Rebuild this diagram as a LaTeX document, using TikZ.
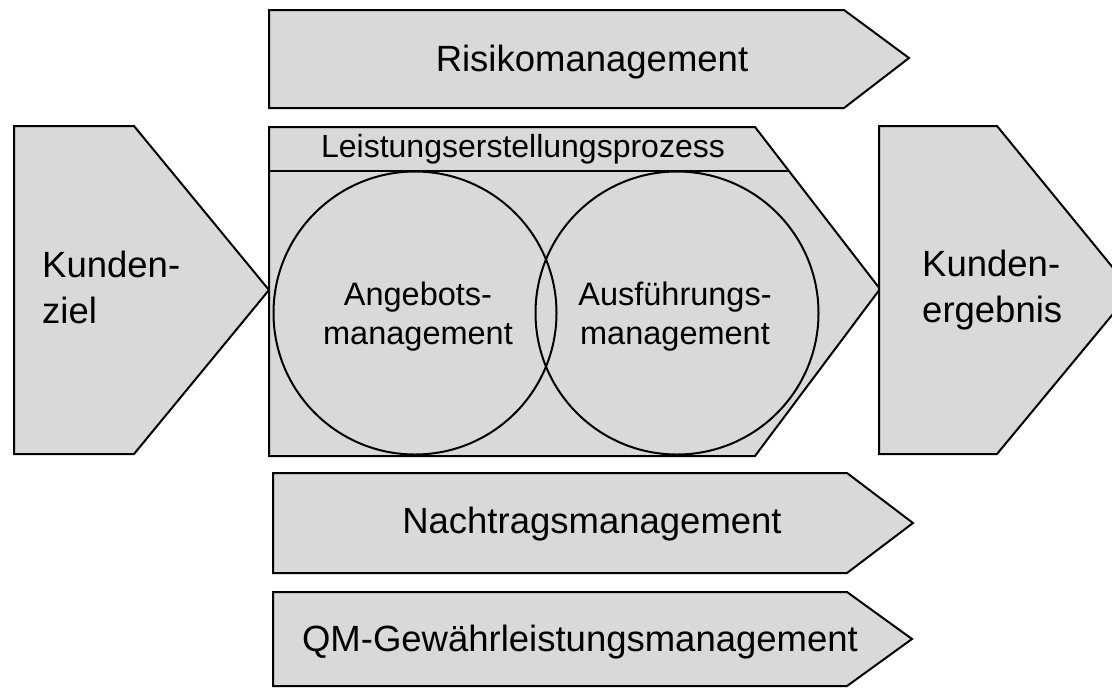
\documentclass[tikz,border=0pt]{standalone}
\usepackage{fontspec}
\setmainfont{Liberation Sans}
\definecolor{shapegray}{HTML}{D9D9D9}
\tikzset{
  shp/.style={draw=black, fill=shapegray, line width=2pt, line join=miter},
  bigtxt/.style={inner sep=0pt, font=\fontsize{36.5}{46}\selectfont},
  midtxt/.style={inner sep=0pt, font=\fontsize{32.5}{39}\selectfont, align=center},
  hdrtxt/.style={inner sep=0pt, font=\fontsize{32}{38}\selectfont},
}
\begin{document}
\begin{tikzpicture}[x=1pt, y=-1pt]
\useasboundingbox (0,0) rectangle (1112,689);
% Risikomanagement
\draw[shp] (269,10) -- (844,10) -- (909,58) -- (844,108) -- (269,108) -- cycle;
\node[bigtxt, anchor=base] (risk) at (592,71) {Risikomanagement};
% Kundenziel
\draw[shp] (14,126) -- (134,126) -- (269,290) -- (134,454) -- (14,454) -- cycle;
\node[bigtxt, anchor=base west, align=left] (ziel) at (42,323) {Kunden-\\ziel};
% Leistungserstellungsprozess
\draw[shp] (269,127) -- (755,127) -- (880,289) -- (755,456) -- (269,456) -- cycle;
\coordinate (hl) at (269,171);
\coordinate (hr) at (789,171);
\draw[line width=2pt] (hl) -- (hr);
\node[hdrtxt, anchor=base] (lep) at (523,157) {Leistungserstellungsprozess};
\node[draw, circle, line width=2pt, minimum size=283pt, inner sep=0pt] (c1) at (415,313) {};
\node[draw, circle, line width=2pt, minimum size=283pt, inner sep=0pt] (c2) at (677,313) {};
\node[midtxt, anchor=base] (ang) at (418,344) {Angebots-\\management};
\node[midtxt, anchor=base] (aus) at (675,344) {Ausführungs-\\management};
% Kundenergebnis
\draw[shp] (879,126) -- (997,126) -- (1132,291) -- (997,454) -- (879,454) -- cycle;
\node[bigtxt, anchor=base west, align=left] (erg) at (922,322) {Kunden-\\ergebnis};
% Nachtragsmanagement
\draw[shp] (273,473) -- (847,473) -- (913,523) -- (847,573) -- (273,573) -- cycle;
\node[bigtxt, anchor=base] (nach) at (592,533) {Nachtragsmanagement};
% QM
\draw[shp] (273,592) -- (847,592) -- (912,639) -- (847,686) -- (273,686) -- cycle;
\node[bigtxt, anchor=base] (qm) at (580,651) {QM-Gewährleistungsmanagement};
\end{tikzpicture}
\end{document}
